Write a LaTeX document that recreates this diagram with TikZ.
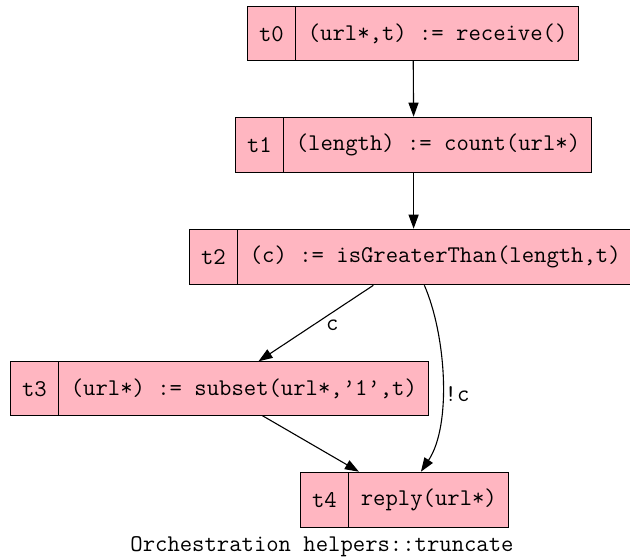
\documentclass[tikz,border=0pt]{standalone}
\usepackage{fontspec}
\usepackage{tikz}
\usetikzlibrary{shapes.multipart, arrows.meta}
\definecolor{Rose}{RGB}{255,182,193}

\begin{document}
\begin{tikzpicture}[x=1pt, y=-1pt, line width=1.1pt,
  >={Triangle[length=14pt, width=10pt]},
  task/.style = {rectangle split, rectangle split horizontal,
                 rectangle split parts=2, draw=black, fill=Rose,
                 anchor=west, inner xsep=11.5pt, inner ysep=16pt,
                 text height=18pt, text depth=3pt,
                 font=\ttfamily\fontsize{24}{27}\selectfont},
  elbl/.style = {font=\ttfamily\fontsize{24}{27}\selectfont, inner sep=2pt}
]
  \useasboundingbox (0,0) rectangle (630,558);

  %% Tasks
  \node[task] (t0) at (247, 33.5) {t0 \nodepart{two} (url*,t) := receive()};
  \node[task] (t1) at (235, 145)  {t1 \nodepart{two} (length) := count(url*)};
  \node[task] (t2) at (189, 257)  {t2 \nodepart{two} (c) := isGreaterThan(length,t)};
  \node[task] (t3) at (10, 388.5) {t3 \nodepart{two} (url*) := subset(url*,’1’,t)};
  \node[task] (t4) at (300, 500)  {t4 \nodepart{two} reply(url*)};

  %% Control flow
  \draw[->] (t0.south) -- (t1.north);
  \draw[->] (t1.south) -- (t1.south |- t2.north);
  \draw[->] ([xshift=-37.5pt]t2.south) -- node[elbl, right=10pt, pos=0.52]{c}
    ([xshift=39pt]t3.north);
  \draw[->] ([xshift=13.5pt]t2.south) .. controls (446,335) and (452,425) ..
    node[elbl, pos=0.57, right=0pt]{!c} ([xshift=16.5pt]t4.north);
  \draw[->] ([xshift=43pt]t3.south) -- ([xshift=-45.5pt]t4.north);

  %% Caption
  \node[elbl] (cap) at (322, 547) {Orchestration helpers::truncate};
\end{tikzpicture}
\end{document}
